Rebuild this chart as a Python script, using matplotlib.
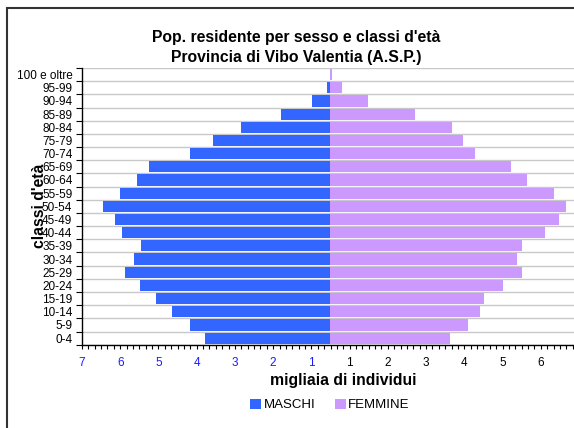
import matplotlib
matplotlib.use("Agg")
import matplotlib.pyplot as plt
import numpy as np
from matplotlib.patches import Rectangle

plt.rcParams['font.family'] = ['Liberation Sans', 'DejaVu Sans']

classi = ['0-4', '5-9', '10-14', '15-19', '20-24', '25-29', '30-34', '35-39',
          '40-44', '45-49', '50-54', '55-59', '60-64', '65-69', '70-74',
          '75-79', '80-84', '85-89', '90-94', '95-99', '100 e oltre']
# migliaia di individui
maschi = [3.29, 3.68, 4.15, 4.57, 4.99, 5.38, 5.14, 4.96, 5.46, 5.64, 5.95,
          5.51, 5.07, 4.75, 3.68, 3.08, 2.34, 1.30, 0.49, 0.09, 0.0]
femmine = [3.13, 3.60, 3.92, 4.02, 4.52, 5.01, 4.88, 5.01, 5.61, 5.98, 6.16,
           5.85, 5.14, 4.73, 3.79, 3.47, 3.19, 2.22, 0.97, 0.31, 0.05]
tick_labels = [7, 6, 5, 4, 3, 2, 1, 1, 2, 3, 4, 5, 6]

blu = '#3366FF'
viola = '#CC99FF'

fig = plt.figure(figsize=(5.74, 4.28), dpi=100)
fig.patch.set_facecolor('white')

# cornice del grafico
fig.patches.append(Rectangle((7/574, -0.1), 1.2, 1 - 8/428 + 0.1, transform=fig.transFigure,
                             fill=False, edgecolor='#333333', linewidth=1.5, zorder=0))

ax = fig.add_axes([82/574, 1 - 344.7/428, 497/574, 276.7/428])

y = np.arange(len(classi))
ax.barh(y, [-m for m in maschi], height=0.85, color=blu, label='MASCHI', zorder=3)
ax.barh(y, femmine, height=0.85, color=viola, label='FEMMINE', zorder=3)

ax.set_xlim(-6.5, 6.5)
ax.set_ylim(-0.5, len(classi) - 0.5)

# etichette asse x (come nell'originale, sfasate di mezza unita')
pos = [-(k - 0.5) for k in range(7, 0, -1)] + [k - 0.5 for k in range(1, 7)]
ax.set_xticks(pos)
ax.set_xticklabels([str(t) for t in tick_labels])
for i, lab in enumerate(ax.get_xticklabels()):
    lab.set_color('#1a1aff' if i < 7 else 'black')
ax.set_xticks(np.arange(-6.5, 6.51, 1/6), minor=True)
ax.tick_params(axis='x', which='both', direction='out', length=3, width=0.8, labelsize=8.5, pad=6)

ax.set_yticks(y)
ax.set_yticklabels(classi)
ax.set_yticks(np.arange(-0.5, len(classi), 1), minor=True)
ax.tick_params(axis='y', which='major', length=0, labelsize=8.5, pad=7)
ax.tick_params(axis='y', which='minor', direction='out', length=4, width=0.8)
ax.grid(axis='y', which='minor', color='#c8c8c8', linewidth=1, zorder=1)
ax.grid(axis='y', which='major', visible=False)

for s in ['top', 'right']:
    ax.spines[s].set_visible(False)
ax.spines['left'].set_linewidth(1)
ax.spines['bottom'].set_linewidth(1)

fig.text(296/574, 1 - 47.5/428, "Pop. residente per sesso e classi d'età\nProvincia di Vibo Valentia (A.S.P.)",
         ha='center', va='center', fontsize=11.3, fontweight='bold', linespacing=1.35)
fig.text(343/574, 1 - 381/428, 'migliaia di individui', ha='center', va='center',
         fontsize=11.3, fontweight='bold')
fig.text(39/574, 1 - 206/428, "classi d'età", ha='center', va='center', rotation=90,
         fontsize=11.3, fontweight='bold')

fig.legend(loc='center', bbox_to_anchor=(330/574, 1 - 405/428), ncol=2, frameon=False,
           fontsize=9.5, handlelength=0.8, handleheight=0.8, handletextpad=0.2,
           columnspacing=1.5)

fig.savefig('out.png', dpi=100)
